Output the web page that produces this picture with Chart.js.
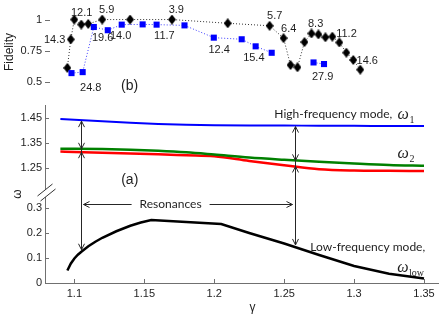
<!DOCTYPE html>
<html>
<head>
<meta charset="utf-8">
<script src="https://cdn.jsdelivr.net/npm/chart.js@4.4.1/dist/chart.umd.min.js"></script>
<style>
  body { margin: 0; background: #fff; }
  canvas { position: absolute; left: 0; }
  #fid { top: 0; }
  #freq { top: 104px; }
</style>
</head>
<body>
<canvas id="fid" width="443" height="104"></canvas>
<canvas id="freq" width="443" height="210"></canvas>
<script>
// ---- panel (b): fidelity ----
var gammaDiamond = [1.095, 1.0975, 1.1, 1.105, 1.11, 1.12, 1.14, 1.17, 1.21, 1.24, 1.25,
                    1.255, 1.26, 1.265, 1.27, 1.275, 1.28, 1.285, 1.29, 1.295, 1.3, 1.305];
var fidDiamond = [0.61, 0.84, 1.0, 0.96, 0.965, 1.0, 1.0, 1.0, 0.97, 0.95, 0.85,
                  0.633, 0.615, 0.818, 0.888, 0.88, 0.857, 0.862, 0.815, 0.733, 0.674, 0.596];
var gammaSquare = [1.098, 1.106, 1.114, 1.124, 1.134, 1.149, 1.159, 1.179, 1.2, 1.22,
                   1.23, 1.2415, 1.2715, 1.279];
var fidSquare = [0.568, 0.576, 0.94, 0.914, 0.959, 0.961, 0.959, 0.953, 0.854, 0.841,
                 0.784, 0.732, 0.654, 0.641];
var squareBreakAfter = 11;   // no dotted link between these two squares
var fidTicks = [0.5, 0.75, 1];

// ---- panel (a): mode frequencies ----
var gammaHigh = [1.09, 1.1, 1.12, 1.14, 1.16, 1.18, 1.2, 1.225, 1.25, 1.275, 1.3, 1.325, 1.35];
var omega1 = [1.446, 1.443, 1.437, 1.431, 1.426, 1.423, 1.421, 1.420, 1.420, 1.419, 1.419, 1.418, 1.418];
var omega2 = [1.327, 1.327, 1.326, 1.323, 1.319, 1.313, 1.304, 1.292, 1.283, 1.275, 1.268, 1.262, 1.259];
var omega3 = [1.316, 1.314, 1.311, 1.308, 1.305, 1.301, 1.297, 1.278, 1.261, 1.245, 1.240, 1.239, 1.238];
var gammaLow = [1.095, 1.0975, 1.1, 1.1025, 1.105, 1.11, 1.115, 1.12, 1.13, 1.14, 1.1475, 1.155,
                1.205, 1.225, 1.25, 1.275, 1.3, 1.325, 1.35];
var omegaLow = [0.05, 0.078, 0.098, 0.113, 0.125, 0.147, 0.165, 0.181, 0.207, 0.229, 0.242, 0.252,
                0.236, 0.2, 0.158, 0.112, 0.068, 0.037, 0.018];
var resonances = [1.105, 1.2575];
var gammaTicks = [1.1, 1.15, 1.2, 1.25, 1.3, 1.35];
var omegaTicks = [0, 0.1, 0.2, 0.3, 1.25, 1.35, 1.45];

var AXIS = '#707070';
var INK = '#1e1e1e';
var SANS = '"Liberation Sans", Arial, sans-serif';
var CAL = 'Lato, "Open Sans", sans-serif';
var SERIF = '"Liberation Serif", "Times New Roman", serif';
var GMIN = 1.079, GMAX = 1.36;

// the omega axis is broken: values above 1 are pulled down by SHIFT
var SHIFT = 0.79;
var BREAK_AT = 0.36;
function wv(v) { return v > 1 ? v - SHIFT : v; }

function interp(xs, ys, x) {
  for (var i = 1; i < xs.length; i++) {
    if (x <= xs[i]) {
      var t = (x - xs[i - 1]) / (xs[i] - xs[i - 1]);
      return ys[i - 1] + t * (ys[i] - ys[i - 1]);
    }
  }
  return ys[ys.length - 1];
}
function pts(xs, ys, f) {
  return xs.map(function (x, i) { return { x: x, y: f ? f(ys[i]) : ys[i] }; });
}

function diamond(w, h, color) {
  var c = document.createElement('canvas');
  c.width = w; c.height = h;
  var g = c.getContext('2d');
  g.fillStyle = color;
  g.beginPath();
  g.moveTo(w / 2, 0); g.lineTo(w, h / 2); g.lineTo(w / 2, h); g.lineTo(0, h / 2);
  g.closePath(); g.fill();
  return c;
}

function head(ctx, x, y, dx, dy) {
  var L = 6, W = 3;
  ctx.moveTo(x - dx * L - dy * W, y - dy * L + dx * W);
  ctx.lineTo(x, y);
  ctx.lineTo(x - dx * L + dy * W, y - dy * L - dx * W);
}

function omegaText(ctx, x, y, sub) {
  ctx.textAlign = 'left';
  ctx.textBaseline = 'middle';
  ctx.font = 'italic 16px ' + SERIF;
  ctx.fillText('\u03c9', x, y);
  var w = ctx.measureText('\u03c9').width;
  ctx.font = '10px ' + SERIF;
  ctx.fillText(sub, x + w + 0.5, y + 5);
}

// labels of panel (b): text, gamma, fidelity, align
var fidLabels = [
  ['14.3', 1.0936, 0.836, 'right'], ['12.1', 1.1053, 1.055, 'center'],
  ['5.9', 1.1232, 1.074, 'center'], ['3.9', 1.1731, 1.074, 'center'],
  ['19.6', 1.1203, 0.855, 'center'], ['24.8', 1.1118, 0.452, 'center'],
  ['14.0', 1.1332, 0.867, 'center'], ['11.7', 1.1646, 0.867, 'center'],
  ['12.4', 1.2038, 0.758, 'center'], ['15.4', 1.2287, 0.6875, 'center'],
  ['5.7', 1.2437, 1.031, 'center'], ['6.4', 1.2537, 0.922, 'center'],
  ['8.3', 1.273, 0.961, 'center'], ['11.2', 1.2951, 0.883, 'center'],
  ['27.9', 1.278, 0.539, 'center'], ['14.6', 1.31, 0.664, 'center']
];

var fidDecor = {
  id: 'fidDecor',
  afterDraw: function (chart) {
    var ctx = chart.ctx, sx = chart.scales.x, sy = chart.scales.y, a = chart.chartArea;
    ctx.save();
    ctx.strokeStyle = AXIS; ctx.lineWidth = 1;
    ctx.beginPath();
    fidTicks.forEach(function (v) {
      var y = Math.round(sy.getPixelForValue(v)) + 0.5;
      ctx.moveTo(a.left, y); ctx.lineTo(a.left + 5, y);
    });
    ctx.stroke();
    ctx.fillStyle = INK;
    ctx.textBaseline = 'middle';
    ctx.font = '11px ' + SANS;
    fidLabels.forEach(function (l) {
      ctx.textAlign = l[3];
      ctx.fillText(l[0], sx.getPixelForValue(l[1]), sy.getPixelForValue(l[2]));
    });
    ctx.font = '14px ' + SANS;
    ctx.textAlign = 'center';
    ctx.fillText('(b)', sx.getPixelForValue(1.1396), sy.getPixelForValue(0.461));
    ctx.restore();
  }
};

new Chart(document.getElementById('fid'), {
  type: 'line',
  data: {
    datasets: [
      {
        data: pts(gammaSquare, fidSquare),
        borderColor: '#3c3cff', borderWidth: 1, borderDash: [1, 2],
        pointStyle: 'rect', pointRadius: 4.3, pointBackgroundColor: '#0000ff',
        pointBorderWidth: 0, tension: 0,
        segment: {
          borderColor: function (c) { return c.p0DataIndex === squareBreakAfter ? 'rgba(0,0,0,0)' : '#3c3cff'; }
        }
      },
      {
        data: pts(gammaDiamond, fidDiamond),
        borderColor: '#333', borderWidth: 1, borderDash: [1, 2],
        pointStyle: diamond(8, 10, '#000'), pointRadius: 5, tension: 0
      }
    ]
  },
  options: {
    responsive: false,
    animation: false,
    layout: { padding: { top: 5, right: 5, bottom: 4, left: 0 } },
    plugins: { legend: { display: false }, tooltip: { enabled: false } },
    scales: {
      x: { type: 'linear', min: GMIN, max: GMAX, display: false },
      y: {
        type: 'linear', min: 0.3672, max: 1.1094,
        grid: { display: false, drawTicks: false },
        border: { display: false },
        afterBuildTicks: function (s) { s.ticks = fidTicks.map(function (v) { return { value: v }; }); },
        afterFit: function (s) { s.width = 45; s.paddingTop = 0; s.paddingBottom = 0; },
        ticks: { padding: 3, color: INK, font: { family: SANS, size: 11 },
                 callback: function (v) { return String(v); } },
        title: { display: true, text: 'Fidelity', color: INK, padding: { top: 2, bottom: 0 },
                 font: { family: SANS, size: 12 } }
      }
    }
  },
  plugins: [fidDecor]
});

var freqDecor = {
  id: 'freqDecor',
  afterDraw: function (chart) {
    var ctx = chart.ctx, sx = chart.scales.x, sy = chart.scales.y, a = chart.chartArea;
    ctx.save();

    // inward tick marks
    ctx.strokeStyle = AXIS; ctx.lineWidth = 1;
    ctx.beginPath();
    omegaTicks.forEach(function (v) {
      var y = Math.round(sy.getPixelForValue(wv(v))) + 0.5;
      ctx.moveTo(a.left, y); ctx.lineTo(a.left + 4, y);
    });
    gammaTicks.forEach(function (g) {
      var x = Math.round(sx.getPixelForValue(g)) + 0.5;
      ctx.moveTo(x, a.bottom); ctx.lineTo(x, a.bottom - 4);
    });
    ctx.stroke();

    // axis break
    var yb = sy.getPixelForValue(BREAK_AT), xb = a.left + 0.5;
    ctx.fillStyle = '#fff';
    ctx.fillRect(xb - 2, yb - 3.5, 4, 7.5);
    ctx.strokeStyle = '#333';
    ctx.beginPath();
    ctx.moveTo(xb - 8, yb + 3); ctx.lineTo(xb + 7, yb - 9);
    ctx.moveTo(xb - 5, yb + 8); ctx.lineTo(xb + 10, yb - 4);
    ctx.stroke();

    // resonance arrows
    ctx.strokeStyle = '#262626'; ctx.lineWidth = 1;
    ctx.beginPath();
    var rx = resonances.map(function (g) { return Math.round(sx.getPixelForValue(g)) + 0.5; });
    resonances.forEach(function (g, i) {
      var x = rx[i];
      var y1 = sy.getPixelForValue(wv(interp(gammaHigh, omega1, g)));
      var y2 = sy.getPixelForValue(wv(interp(gammaHigh, omega2, g)));
      var y3 = sy.getPixelForValue(wv(interp(gammaHigh, omega3, g)));
      var yl = sy.getPixelForValue(interp(gammaLow, omegaLow, g));
      ctx.moveTo(x, y1 + 1); ctx.lineTo(x, yl - 2);
      head(ctx, x, y1 + 1, 0, -1);
      head(ctx, x, y2, 0, 1);
      head(ctx, x, y3, 0, -1);
      head(ctx, x, yl - 2, 0, 1);
    });

    ctx.fillStyle = INK;
    ctx.font = '12px ' + CAL;
    ctx.textAlign = 'center'; ctx.textBaseline = 'middle';
    var cx = sx.getPixelForValue(1.1688), cy = Math.round(sy.getPixelForValue(0.315)) + 0.5;
    var tw = ctx.measureText('Resonances').width;
    ctx.fillText('Resonances', cx, cy);
    ctx.moveTo(cx - tw / 2 - 8, cy); ctx.lineTo(rx[0] + 2, cy);
    head(ctx, rx[0] + 2, cy, -1, 0);
    ctx.moveTo(cx + tw / 2 + 8, cy); ctx.lineTo(rx[1] - 3, cy);
    head(ctx, rx[1] - 3, cy, 1, 0);
    ctx.stroke();

    // mode names
    ctx.textAlign = 'left';
    ctx.fillText('High-frequency mode,', sx.getPixelForValue(1.243), sy.getPixelForValue(wv(1.466)));
    ctx.fillText('Low-frequency mode,', sx.getPixelForValue(1.2687), sy.getPixelForValue(0.144));
    omegaText(ctx, sx.getPixelForValue(1.3311), sy.getPixelForValue(wv(1.462)), '1');
    omegaText(ctx, sx.getPixelForValue(1.3311), sy.getPixelForValue(wv(1.306)), '2');
    omegaText(ctx, sx.getPixelForValue(1.3308), sy.getPixelForValue(0.06), 'low');

    ctx.font = '14px ' + SANS;
    ctx.textAlign = 'center';
    ctx.fillText('(a)', sx.getPixelForValue(1.1396), sy.getPixelForValue(wv(1.202)));

    ctx.font = '12px ' + SANS;
    ctx.fillText('\u03b3', sx.getPixelForValue(1.2273), a.bottom + 25);
    ctx.restore();
  }
};

new Chart(document.getElementById('freq'), {
  type: 'line',
  data: {
    datasets: [
      { data: pts(gammaHigh, omega1, wv), borderColor: '#0000ff', borderWidth: 2,
        pointRadius: 0, cubicInterpolationMode: 'monotone' },
      { data: pts(gammaHigh, omega2, wv), borderColor: '#008000', borderWidth: 2.5,
        pointRadius: 0, cubicInterpolationMode: 'monotone' },
      { data: pts(gammaHigh, omega3, wv), borderColor: '#ff0000', borderWidth: 2.5,
        pointRadius: 0, cubicInterpolationMode: 'monotone' },
      { data: pts(gammaLow, omegaLow), borderColor: '#000', borderWidth: 2.5,
        pointRadius: 0, tension: 0 }
    ]
  },
  options: {
    responsive: false,
    animation: false,
    layout: { padding: { top: 1, right: 5, bottom: 0, left: 0 } },
    plugins: { legend: { display: false }, tooltip: { enabled: false } },
    scales: {
      x: {
        type: 'linear', min: GMIN, max: GMAX,
        grid: { display: false, drawTicks: false },
        border: { color: AXIS },
        afterBuildTicks: function (s) { s.ticks = gammaTicks.map(function (v) { return { value: v }; }); },
        afterFit: function (s) { s.height = 31; s.paddingLeft = 0; s.paddingRight = 0; },
        ticks: { padding: 4, maxRotation: 0, autoSkip: false, color: INK,
                 font: { family: SANS, size: 11 },
                 callback: function (v) { return String(v); } }
      },
      y: {
        type: 'linear', min: 0, max: 0.712,
        grid: { display: false, drawTicks: false },
        border: { color: AXIS },
        afterBuildTicks: function (s) { s.ticks = omegaTicks.map(function (v) { return { value: wv(v) }; }); },
        afterFit: function (s) { s.width = 45; s.paddingTop = 0; s.paddingBottom = 0; },
        ticks: { padding: 3, color: INK, font: { family: SANS, size: 11 },
                 callback: function (v, i) { return String(omegaTicks[i]); } },
        title: { display: true, text: '\u03c9', color: INK, padding: { top: 10, bottom: 0 },
                 font: { family: SANS, size: 12 } }
      }
    }
  },
  plugins: [freqDecor]
});
</script>
</body>
</html>
